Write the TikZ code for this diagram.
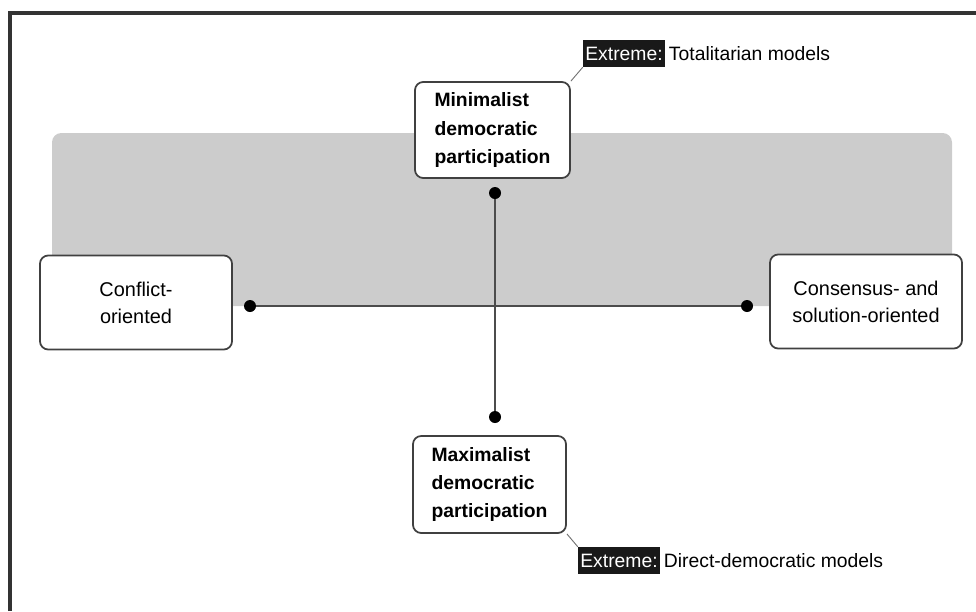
\documentclass[tikz,border=0pt]{standalone}
\usepackage{fontspec}
\setmainfont{Liberation Sans}
\usepackage{xcolor}
\usepackage{tikz}
\usetikzlibrary{positioning}

\tikzset{
  partbox/.style={draw=black!75, line width=1.5pt, rounded corners=7pt, fill=white,
    align=left, inner sep=0pt, font=\fontsize{16.5}{24}\selectfont\bfseries},
  sidebox/.style={draw=black!75, line width=1.5pt, rounded corners=7pt, fill=white,
    align=center, inner sep=0pt, minimum width=5.76cm, minimum height=2.82cm,
    font=\fontsize{17}{23}\selectfont},
  enddot/.style={circle, fill=black, inner sep=0pt, minimum size=0.36cm},
  extremetag/.style={fill=black!90, text=white, inner sep=0pt, minimum width=2.46cm,
    minimum height=0.81cm, font=\fontsize{16.5}{20}\selectfont},
  extremetext/.style={inner sep=0pt, font=\fontsize{16.5}{20}\selectfont}
}

\begin{document}
\begin{tikzpicture}[x=0.03cm, y=-0.03cm]
                    \useasboundingbox (0,0) rectangle (976,611);
                    % frame
                    \draw [black!80, line width=2.6pt] (10,611) -- (10,13) -- (976,13);
                    % grey field
                    \fill [black!20, rounded corners=8pt] (52,133) rectangle (952,306);
                    % axes
                    \node [enddot] (dl) at (250,306) {};
                    \node [enddot] (dr) at (747,306) {};
                    \node [enddot] (dt) at (495,193) {};
                    \node [enddot] (db) at (495,417) {};
                    \draw [black!70, line width=1.5pt] (dl) -- (dr);
                    \draw [black!70, line width=1.5pt] (dt) -- (db);
                    % boxes
                    \node [partbox, minimum width=4.65cm, minimum height=2.88cm] (minp) at (492.5,130) {Minimalist\\democratic\\participation};
                    \node [partbox, minimum width=4.59cm, minimum height=2.91cm] (maxp) at (489.5,484.5) {Maximalist\\democratic\\participation};
                    \node [sidebox] (conf) at (136,302.5) {Conflict-\\oriented};
                    \node [sidebox] (cons) at (866,301.5) {Consensus- and\\solution-oriented};
                    % extremes
                    \node [extremetag] (tagt) at (624,53.5) {Extreme:};
                    \node [extremetext, right=3pt of tagt] (txtt) {Totalitarian models};
                    \node [extremetag] (tagb) at (619,560.5) {Extreme:};
                    \node [extremetext, right=3pt of tagb] (txtb) {Direct-democratic models};
                    \draw [black!55, line width=0.8pt] (minp.north east) -- (tagt.south west);
                    \draw [black!55, line width=0.8pt] (maxp.south east) -- (tagb.north west);
                \end{tikzpicture}
\end{document}
